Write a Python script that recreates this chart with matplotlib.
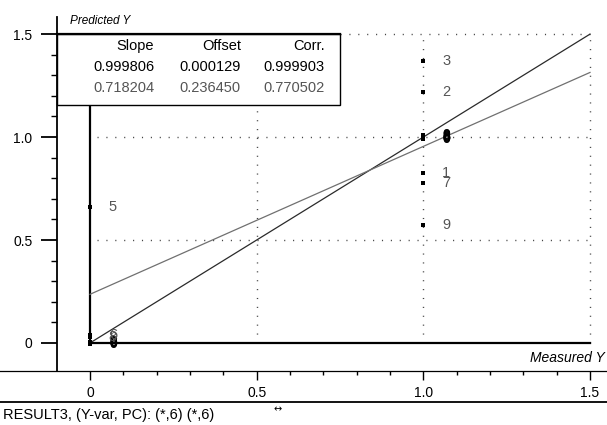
import numpy as np
import matplotlib
matplotlib.use("Agg")
import matplotlib.pyplot as plt
from matplotlib.patches import Rectangle
from matplotlib.lines import Line2D
from matplotlib.ticker import FixedLocator

plt.rcParams['font.family'] = ['Liberation Sans', 'DejaVu Sans']

# calibration samples (measured / predicted) and their sample names
cal_measured = [0, 0, 0, 0, 1, 1, 1, 1, 1]
cal_predicted = [-0.004, 0.002, 0.006, -0.002, 0.990, 0.996, 1.002, 1.008, 1.004]
cal_labels = ['0', '6', '8', '0', '0', '6', '8', '0', '8']

# validation samples
val_measured = [1, 1, 1, 0, 0, 1, 0, 1]
val_predicted = [0.825, 1.22, 1.37, 0.66, 0.04, 0.777, 0.03, 0.573]
val_labels = ['1', '2', '3', '5', '6', '7', '8', '9']

# regression statistics (calibration row, validation row)
slopes = [0.999806, 0.718204]
offsets = [0.000129, 0.236450]
corrs = [0.999903, 0.770502]
stat_headers = ['Slope', 'Offset', 'Corr.']

xticks_major = [0, 0.5, 1.0, 1.5]
xtick_labels = ['0', '0.5', '1.0', '1.5']
yticks_major = [0, 0.5, 1.0, 1.5]
ytick_labels = ['0', '0.5', '1.0', '1.5']

W, H = 607, 425
fig = plt.figure(figsize=(W / 100, H / 100), dpi=100)
ax = fig.add_axes([0, (H - 371) / H, 1, (371 - 17) / H])
ax.set_xlim(-0.27, 1.551)
ax.set_ylim(-0.136, 1.583)

for s in ['top', 'right']:
    ax.spines[s].set_visible(False)
ax.spines['left'].set_position(('data', -0.1))
ax.spines['left'].set_linewidth(1.3)
ax.spines['bottom'].set_linewidth(0.9)

ax.xaxis.set_major_locator(FixedLocator(xticks_major))
ax.xaxis.set_minor_locator(FixedLocator(np.arange(1, 15) / 10))
ax.set_xticklabels(xtick_labels)
ax.yaxis.set_major_locator(FixedLocator(yticks_major))
ax.yaxis.set_minor_locator(FixedLocator(np.arange(1, 15) / 10))
ax.set_yticklabels(ytick_labels)
ax.tick_params(axis='x', which='major', direction='out', length=6.5, width=1, labelsize=10, pad=4)
ax.tick_params(axis='x', which='minor', direction='out', length=3, width=1)
ax.tick_params(axis='y', which='major', direction='out', length=11.5, width=1.3, labelsize=10, pad=6)
ax.tick_params(axis='y', which='minor', direction='out', length=4.3, width=1)

# dotted reference grid
dots = dict(color='#444444', lw=1.0, linestyle=(0, (0.8, 5.6)))
for gx in [0.5, 1.0, 1.5]:
    ax.plot([gx, gx], [0, 1.5], **dots)
for gy in [0.5, 1.0]:
    ax.plot([0.02, 1.5], [gy, gy], **dots)
ax.plot([0.75, 1.5], [1.5, 1.5], **dots)

# target axes inside the plot
ax.plot([0, 1.5], [0, 0], color='black', lw=1.6)
ax.plot([0, 0], [0, 1.156], color='black', lw=1.6)

# regression lines
xl = np.array([0, 1.5])
ax.plot(xl, slopes[0] * xl + offsets[0], color='#2a2a2a', lw=0.9)
ax.plot(xl, slopes[1] * xl + offsets[1], color='#707070', lw=0.9)

# samples: a dot at the value, the sample name to its right
ax.scatter(cal_measured, cal_predicted, s=10, color='black', marker='s', zorder=3, linewidths=0)
for mx, py, lab in zip(cal_measured, cal_predicted, cal_labels):
    ax.annotate(lab, (mx, py), xytext=(16.5, 0), textcoords='offset points',
                ha='center', va='center', fontsize=10, fontweight='bold', color='black')
ax.scatter(val_measured, val_predicted, s=7, color='black', marker='s', zorder=3, linewidths=0)
for mx, py, lab in zip(val_measured, val_predicted, val_labels):
    ax.annotate(lab, (mx, py), xytext=(16.5, 0), textcoords='offset points',
                ha='center', va='center', fontsize=10.5, color='#555555')

# statistics box
ax.add_patch(Rectangle((-0.1, 1.156), 0.85, 0.344, facecolor='white',
                       edgecolor='black', lw=1.0, zorder=4))
ax.plot([-0.1, 0.75], [1.5, 1.5], color='black', lw=1.6, zorder=5, clip_on=False)
col_x = [0.192, 0.453, 0.705]
for cx, head in zip(col_x, stat_headers):
    ax.text(cx, 1.442, head, ha='right', va='center', fontsize=10.5, zorder=6)
for row, (rv, rc) in enumerate(zip(zip(slopes, offsets, corrs), ['black', '#555555'])):
    for cx, v in zip(col_x, rv):
        ax.text(cx, 1.340 - row * 0.102, f"{v:.6f}", ha='right', va='center',
                fontsize=10.5, color=rc, zorder=6)

fig.text(70 / W, 1 - 21 / H, 'Predicted Y', fontsize=8.5, style='italic', ha='left', va='center')
fig.text(530 / W, 1 - 358 / H, 'Measured Y', fontsize=10, style='italic', ha='left', va='center')

# footer
fig.add_artist(Line2D([0, 1], [1 - 402 / H] * 2, color='black', lw=1.3, transform=fig.transFigure))
fig.text(3 / W, 1 - 415 / H, 'RESULT3, (Y-var, PC): (*,6) (*,6)', fontsize=10.5, ha='left', va='center')
fig.text(278 / W, 1 - 409 / H, '↔', fontsize=7, ha='center', va='center', family='DejaVu Sans')

fig.savefig('out.png', dpi=100)
